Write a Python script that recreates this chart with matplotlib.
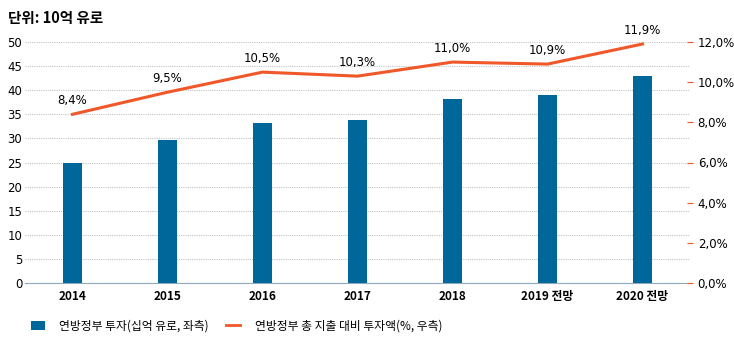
import matplotlib
matplotlib.use("Agg")
import matplotlib.pyplot as plt
from matplotlib.ticker import FuncFormatter

plt.rcParams['font.family'] = ['Noto Sans CJK KR', 'DejaVu Sans']

categories = ["2014", "2015", "2016", "2017", "2018", "2019 전망", "2020 전망"]
investment = [24.9, 29.7, 33.2, 33.8, 38.2, 39.0, 42.9]
share_pct = [8.4, 9.5, 10.5, 10.3, 11.0, 10.9, 11.9]
title = "단위: 10억 유로"
bar_label = "연방정부 투자(십억 유로, 좌측)"
line_label = "연방정부 총 지출 대비 투자액(%, 우측)"

bar_color = "#00679A"
line_color = "#F0582A"

fig = plt.figure(figsize=(7.34, 3.42), dpi=100)
ax = fig.add_axes([25/734, 1-283/342, 665/734, 241/342])
x = list(range(len(categories)))
ax.bar(x, investment, width=0.19, color=bar_color, zorder=3)
ax.set_xlim(-0.5, 6.5)
ax.set_ylim(0, 50)
ax.set_yticks(range(0, 51, 5))
ax.grid(axis='y', linestyle=(0, (1, 1)), color='#C4C4C4', linewidth=0.8, zorder=0)
for s in ['top', 'right', 'left']:
    ax.spines[s].set_visible(False)
ax.spines['bottom'].set_color('#8FA9BF')
ax.tick_params(axis='y', length=0, labelsize=8.5, pad=2)
ax.tick_params(axis='x', length=0, labelsize=8.5, pad=5)
ax.set_xticks(x)
ax.set_xticklabels(categories, fontweight='bold')
for lab in ax.get_yticklabels():
    lab.set_fontfamily('DejaVu Sans')

ax2 = ax.twinx()
ax2.plot(x, share_pct, color=line_color, linewidth=2.2, zorder=4)
ax2.set_ylim(0, 12)
ax2.set_yticks(range(0, 13, 2))
ax2.yaxis.set_major_formatter(FuncFormatter(lambda v, p: f"{v:.1f}".replace('.', ',') + "%"))
for s in ['top', 'right', 'left', 'bottom']:
    ax2.spines[s].set_visible(False)
ax2.tick_params(axis='y', length=5, color=line_color, direction='inout', labelsize=8.5, pad=3, width=0.8)
for lab in ax2.get_yticklabels():
    lab.set_fontfamily('DejaVu Sans')
for xi, v in zip(x, share_pct):
    ax2.annotate(f"{v:.1f}".replace('.', ',') + "%", (xi, v), xytext=(0, 5),
                 textcoords='offset points', ha='center', va='bottom', fontsize=8.5,
                 family='DejaVu Sans')

fig.text(8/734, 1-18/342, title, fontsize=10.5, fontweight='bold', va='center', ha='left')

from matplotlib.patches import Patch
from matplotlib.lines import Line2D
handles = [Patch(facecolor=bar_color), Line2D([0], [0], color=line_color, linewidth=2)]
fig.legend(handles, [bar_label, line_label], loc='center left',
           bbox_to_anchor=(20/734, 1-326/342), ncol=2, frameon=False, fontsize=8.5,
           handlelength=1.2, columnspacing=1.5, handletextpad=1.2)

fig.savefig("out.png", dpi=100)
